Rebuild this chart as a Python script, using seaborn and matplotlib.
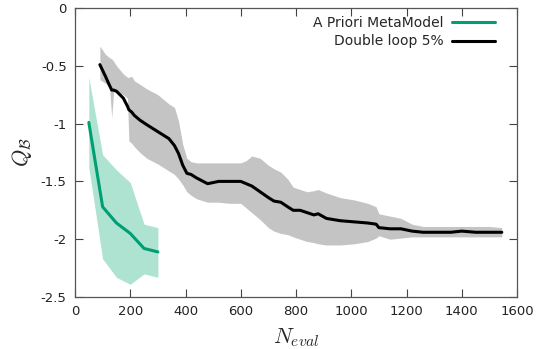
import matplotlib
matplotlib.use("Agg")
import matplotlib.pyplot as plt
import seaborn as sns
import numpy as np

# A Priori MetaModel (mean and band)
apm_n = [50, 100, 150, 200, 250, 300]
apm_mean = [-0.99, -1.72, -1.86, -1.95, -2.08, -2.11]
apm_upper = [-0.60, -1.27, -1.40, -1.51, -1.87, -1.90]
apm_lower = [-1.38, -2.17, -2.33, -2.39, -2.30, -2.33]

# Double loop 5% (mean and band)
dl_n = [90, 110, 125, 133, 140, 150, 175, 190, 195, 205, 215, 235, 260, 300, 340,
        360, 375, 390, 405, 420, 440, 480, 520, 560, 600, 620, 640, 670, 700,
        720, 745, 770, 790, 815, 840, 865, 880, 910, 960, 1010, 1060, 1090,
        1100, 1140, 1180, 1220, 1260, 1310, 1360, 1400, 1450, 1500, 1545]
dl_mean = [-0.49, -0.59, -0.67, -0.71, -0.71, -0.72, -0.78, -0.85, -0.88, -0.90,
           -0.93, -0.97, -1.01, -1.07, -1.13, -1.19, -1.26, -1.36, -1.43, -1.44,
           -1.47, -1.52, -1.50, -1.50, -1.50, -1.52, -1.54, -1.59, -1.64, -1.67,
           -1.68, -1.72, -1.75, -1.75, -1.77, -1.79, -1.78, -1.82, -1.84, -1.85,
           -1.86, -1.87, -1.90, -1.91, -1.91, -1.93, -1.94, -1.94, -1.94, -1.93,
           -1.94, -1.94, -1.94]
dl_upper = [-0.33, -0.40, -0.43, -0.44, -0.46, -0.50, -0.57, -0.60, -0.60, -0.59,
            -0.63, -0.66, -0.70, -0.75, -0.83, -0.86, -0.98, -1.18, -1.30, -1.33,
            -1.34, -1.34, -1.34, -1.34, -1.34, -1.32, -1.28, -1.30, -1.36, -1.39,
            -1.42, -1.48, -1.55, -1.57, -1.59, -1.58, -1.57, -1.60, -1.64, -1.66,
            -1.69, -1.72, -1.78, -1.80, -1.82, -1.87, -1.89, -1.89, -1.89, -1.89,
            -1.89, -1.89, -1.90]
dl_lower = [-0.62, -0.65, -0.68, -0.95, -0.72, -0.73, -0.75, -0.78, -1.15, -1.17,
            -1.20, -1.25, -1.30, -1.35, -1.41, -1.44, -1.48, -1.53, -1.59, -1.62,
            -1.65, -1.68, -1.68, -1.69, -1.69, -1.73, -1.77, -1.83, -1.90, -1.93,
            -1.95, -1.96, -1.98, -2.00, -2.02, -2.03, -2.04, -2.05, -2.05, -2.04,
            -2.02, -1.99, -1.97, -2.00, -1.99, -1.98, -1.98, -1.98, -1.98, -1.98,
            -1.98, -1.98, -1.98]

sns.set_theme(style="ticks")
plt.rcParams['font.family'] = ['DejaVu Sans']
plt.rcParams['mathtext.fontset'] = 'cm'

green = "#009e73"

fig = plt.figure(figsize=(5.36, 3.49), dpi=100)
ax = fig.add_axes([75 / 536, 52 / 349, 442 / 536, 289 / 349])

ax.fill_between(apm_n, apm_lower, apm_upper, color="#aee3d2", linewidth=0)
ax.fill_between(dl_n, dl_lower, dl_upper, color="#c4c4c4", linewidth=0)

sns.lineplot(x=apm_n, y=apm_mean, color=green, linewidth=2.2, ax=ax,
             label="A Priori MetaModel")
sns.lineplot(x=dl_n, y=dl_mean, color="black", linewidth=2.2, ax=ax,
             label="Double loop 5%")

ax.set_xlim(0, 1600)
ax.set_ylim(-2.5, 0)
ax.set_xticks(np.arange(0, 1601, 200))
ax.set_yticks(np.arange(-2.5, 0.01, 0.5))
ax.set_yticklabels(["-2.5", "-2", "-1.5", "-1", "-0.5", "0"])

ax.tick_params(direction="in", length=6, width=0.8, color="#444444",
               top=True, right=True, labelsize=9.5, labelcolor="#222222", pad=6)
for s in ax.spines.values():
    s.set_color("#555555")
    s.set_linewidth(0.9)

ax.set_xlabel("$N_{eval}$", fontsize=16, labelpad=6)
ax.set_ylabel(r"$Q_{\mathcal{B}}$", fontsize=16, labelpad=5)

ax.legend(loc="upper right", bbox_to_anchor=(503 / 536, 1 - 8 / 349),
          bbox_transform=fig.transFigure, frameon=False, markerfirst=False,
          fontsize=10, handlelength=3.1, handletextpad=0.6, labelspacing=0.3,
          borderaxespad=0.2)

plt.savefig("out.png", dpi=100)
